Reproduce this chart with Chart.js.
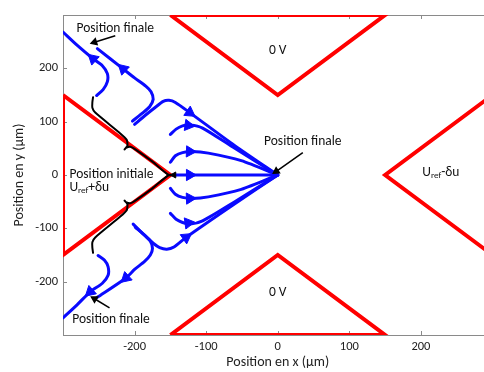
<!DOCTYPE html>
<html>
<head>
<meta charset="utf-8">
<script src="https://cdn.jsdelivr.net/npm/chart.js@4/dist/chart.umd.min.js"></script>
<style>
  html, body { margin: 0; padding: 0; overflow: hidden; background: #fff; }
  #wrap { width: 500px; height: 372px; }
</style>
</head>
<body>
<div id="wrap"><canvas id="chart"></canvas></div>
<script>
// axis ticks
const xTicks = [-200, -100, 0, 100, 200];
const yTicks = [-200, -100, 0, 100, 200];

// electrodes (µm)
const electrodeTop = [[-150, 300], [0, 150], [150, 300], [-150, 300]];
const electrodeBottom = [[-150, -300], [0, -150], [150, -300], [-150, -300]];
const electrodeLeft = [[-300, 150], [-150, 0], [-300, -150], [-300, 150]];
const electrodeRight = [[300, 150], [150, 0], [300, -150]];

// black trajectories from the initial position
const initUp = [[-140, 0], [-152, 0], [-175, 25], [-200, 49], [-206, 53], [-212, 51], [-214, 48], [-210, 55], [-211, 66], [-220, 78], [-255, 117], [-259, 126], [-259, 136], [-258, 146]];
const initDown = [[-140, 0], [-152, 0], [-175, -25], [-200, -49], [-206, -53], [-212, -51], [-214, -48], [-210, -55], [-211, -66], [-220, -78], [-255, -117], [-259, -126], [-259, -136], [-258, -146]];

// blue trajectories
const trajA = [[-253, 149], [-244, 160], [-238, 175], [-238, 190], [-245, 205], [-258, 218], [-280, 243], [-300, 268]];
const trajB = [[-203, 101], [-190, 115], [-179, 128], [-174, 142], [-177, 156], [-184, 166], [-200, 182], [-216, 199], [-252, 237]];
const trajC = [[-200, 95], [-185, 112], [-170, 128], [-160, 138], [-152, 140], [-143, 136], [-123, 117], [-60, 55], [0, 0]];
const trajD = [[-150, 76], [-142, 86], [-133, 92], [-122, 94], [-105, 88], [-60, 50], [0, 0]];
const trajE = [[-150, 24], [-143, 36], [-133, 42], [-120, 44], [-97, 41], [-51, 27], [0, 0]];
const trajF = [[-146, 0], [0, 0]];
const trajE2 = [[-150, -25], [-143, -36], [-133, -42], [-120, -44], [-97, -41], [-51, -27], [0, 0]];
const trajD2 = [[-150, -72], [-142, -83], [-133, -89], [-122, -92], [-105, -86], [-60, -50], [0, 0]];
const trajC2 = [[-199, -98], [-185, -114], [-174, -128], [-165, -136], [-155, -139], [-145, -135], [-128, -117], [-60, -54], [0, 0]];
const trajB2 = [[-202, -92], [-190, -108], [-178, -124], [-175, -138], [-178, -150], [-186, -162], [-200, -177], [-212, -193], [-253, -230]];
const trajA2 = [[-251, -151], [-242, -160], [-237, -172], [-237, -188], [-245, -203], [-262, -219], [-280, -243], [-300, -268]];

// arrow heads on trajectories: x, y, rotation (deg)
const blueArrows = [[-258, 218, -48], [-216, 199, -47], [-123, 117, 125], [-125, 93, 98], [-123, 44, 92], [-123, 0, 90],
                    [-123, -44, 88], [-125, -90, 82], [-128, -117, 55], [-212, -193, 228], [-262, -219, 228]];
const blackArrows = [[-145, 0, -90]];

// annotation pointers: from, to, head rotation
const pointers = [
  [[-227, 261], [-256, 249], -107],
  [[35, 42], [-2, 7], -123],
  [[-235, -249], [-256, -232], -60]
];

// labels: text, x, y, align
const labels = [
  ['Position finale', -227, 274, 'center'],
  ['Position finale', 35, 63, 'center'],
  ['Position finale', -233, -272, 'center'],
  ['Position initiale', -291, 1, 'left'],
  ['0 V', 0, 233, 'center'],
  ['0 V', 0, -221, 'center']
];
const subLabels = [
  ['U', 'ref', '+δu', -291, -23],
  ['U', 'ref', '-δu', 202, 4]
];

const FONT = 'Carlito, Lato, sans-serif';
const toPts = arr => arr.map(([x, y]) => ({ x, y }));

function line(data, color, width, order, tension) {
  return {
    data: toPts(data), showLine: true, borderColor: color, backgroundColor: color,
    borderWidth: width, pointRadius: 0, tension: tension, order: order,
    borderCapStyle: 'round', borderJoinStyle: 'round'
  };
}

const BLUE = '#0a0aff';
const RED = '#ff0000';

const datasets = [];
datasets.push({
  data: blueArrows.map(([x, y]) => ({ x, y })), showLine: false, pointStyle: 'triangle',
  rotation: blueArrows.map(a => a[2]), pointRadius: 6.5, backgroundColor: BLUE, borderColor: BLUE, order: 0
});
datasets.push({
  data: blackArrows.map(([x, y]) => ({ x, y })), showLine: false, pointStyle: 'triangle',
  rotation: blackArrows.map(a => a[2]), pointRadius: 3.5, backgroundColor: '#000', borderColor: '#000', order: 0
});
pointers.forEach(([a, b, rot]) => {
  datasets.push({
    data: toPts([a, b]), showLine: true, borderColor: '#000', backgroundColor: '#000', borderWidth: 1.5,
    pointStyle: 'triangle', pointRadius: [0, 3.5], rotation: [0, rot], order: 0
  });
});
[trajA, trajB, trajC, trajD, trajE, trajF, trajE2, trajD2, trajC2, trajB2, trajA2].forEach(t => datasets.push(line(t, BLUE, 3, 1, 0.25)));
[initUp, initDown].forEach(t => datasets.push(line(t, '#000', 2, 2, 0.2)));
[electrodeTop, electrodeBottom, electrodeLeft, electrodeRight].forEach(t => {
  const d = line(t, RED, 4, 3, 0);
  d.borderJoinStyle = 'miter';
  d.borderCapStyle = 'butt';
  datasets.push(d);
});

const decor = {
  id: 'decor',
  beforeDatasetsDraw(chart) {
    const { ctx, chartArea: a, scales: { x, y } } = chart;
    ctx.save();
    ctx.strokeStyle = '#8a8a8a';
    ctx.lineWidth = 1;
    ctx.beginPath();
    ctx.moveTo(a.left, a.top + 0.5);
    ctx.lineTo(a.right, a.top + 0.5);
    xTicks.forEach(v => {
      const px = Math.round(x.getPixelForValue(v)) + 0.5;
      ctx.moveTo(px, a.bottom); ctx.lineTo(px, a.bottom - 4);
      ctx.moveTo(px, a.top); ctx.lineTo(px, a.top + 4);
    });
    yTicks.forEach(v => {
      const py = Math.round(y.getPixelForValue(v)) + 0.5;
      ctx.moveTo(a.left, py); ctx.lineTo(a.left + 4, py);
    });
    ctx.stroke();
    ctx.restore();
  },
  afterDatasetsDraw(chart) {
    const { ctx, scales: { x, y } } = chart;
    ctx.save();
    ctx.fillStyle = '#111';
    ctx.textBaseline = 'middle';
    ctx.font = '13.5px ' + FONT;
    labels.forEach(([t, vx, vy, al]) => {
      ctx.textAlign = al;
      ctx.fillText(t, x.getPixelForValue(vx), y.getPixelForValue(vy));
    });
    ctx.textAlign = 'left';
    subLabels.forEach(([a, s, b, vx, vy]) => {
      let px = x.getPixelForValue(vx);
      const py = y.getPixelForValue(vy);
      ctx.font = '13.5px ' + FONT;
      ctx.fillText(a, px, py);
      px += ctx.measureText(a).width;
      ctx.font = '9px ' + FONT;
      ctx.fillText(s, px, py + 3);
      px += ctx.measureText(s).width;
      ctx.font = '13.5px ' + FONT;
      ctx.fillText(b, px, py);
    });
    ctx.restore();
  }
};

new Chart(document.getElementById('chart'), {
  type: 'scatter',
  data: { datasets },
  options: {
    responsive: true,
    maintainAspectRatio: false,
    animation: false,
    layout: { padding: { top: 15, right: 6, left: 0, bottom: 0 } },
    plugins: { legend: { display: false }, tooltip: { enabled: false } },
    scales: {
      x: {
        type: 'linear', min: -300, max: 300, position: 'bottom',
        grid: { display: false, drawTicks: false },
        border: { color: '#8a8a8a', width: 1 },
        afterBuildTicks: s => { s.ticks = xTicks.map(v => ({ value: v })); },
        afterFit: s => { s.height = 37; },
        ticks: { padding: 4, color: '#222', font: { family: FONT, size: 12.5 } },
        title: { display: true, text: 'Position en x (µm)', color: '#222', font: { family: FONT, size: 14 }, padding: { top: 0, bottom: 1 } }
      },
      y: {
        type: 'linear', min: -300, max: 300, position: 'left',
        grid: { display: false, drawTicks: false },
        border: { color: '#8a8a8a', width: 1 },
        afterBuildTicks: s => { s.ticks = yTicks.map(v => ({ value: v })); },
        afterFit: s => { s.width = 63; },
        ticks: { padding: 5, color: '#222', font: { family: FONT, size: 12.5 } },
        title: { display: true, text: 'Position en y (µm)', color: '#222', font: { family: FONT, size: 14 }, padding: { top: 11, bottom: 0 } }
      }
    }
  },
  plugins: [decor]
});
</script>
</body>
</html>
